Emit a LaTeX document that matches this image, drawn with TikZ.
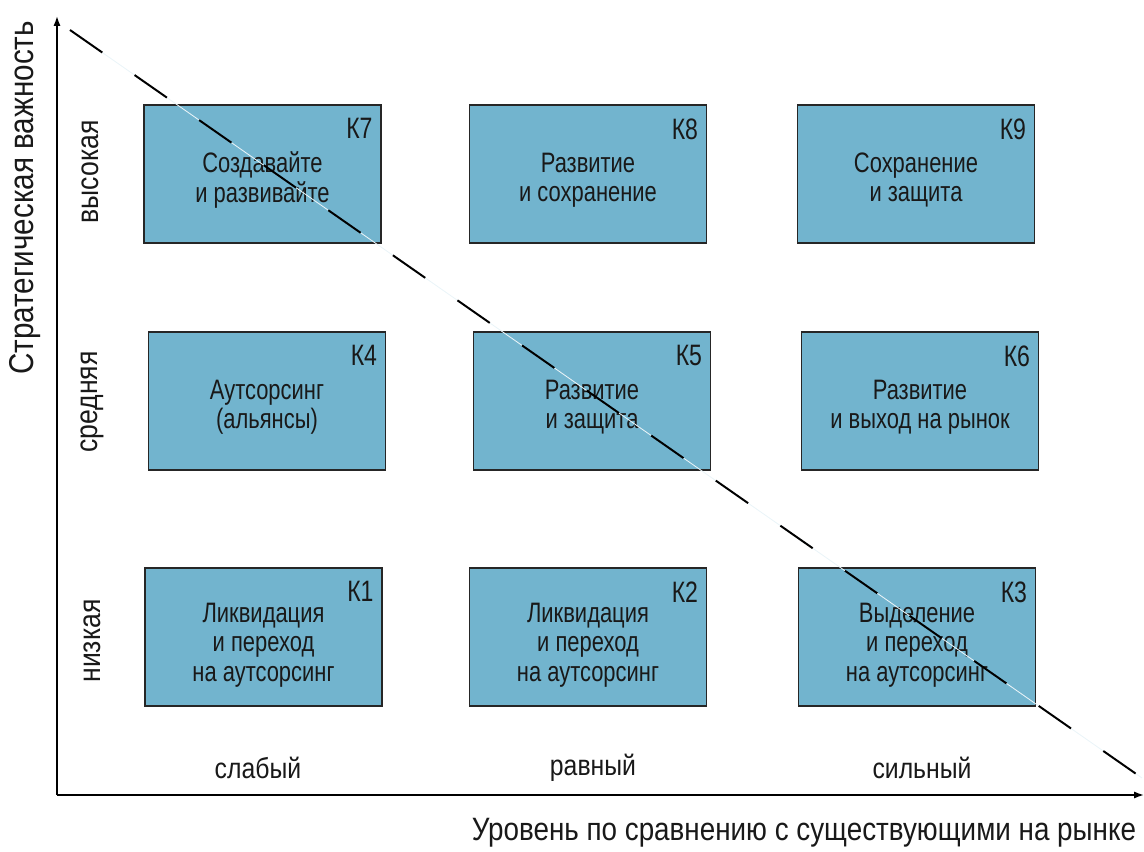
\documentclass[tikz,border=0pt]{standalone}
\usepackage{fontspec}
\setmainfont{Liberation Sans}[FakeStretch=0.86]
\newfontfamily\cellfont{Liberation Sans}[FakeStretch=0.78]
\usetikzlibrary{calc,arrows.meta}

\definecolor{cellblue}{RGB}{114,180,206}

\tikzset{
  cell/.style={draw=black!85, line width=1.1pt, fill=cellblue,
    minimum width=5.925cm, minimum height=3.45cm, inner sep=0pt},
  celltext/.style={align=center, inner sep=0pt, text=black!90,
    font=\cellfont\fontsize{20}{20.8}\selectfont},
  tag/.style={anchor=north east, inner sep=0pt, text=black!90,
    font=\cellfont\fontsize{21}{22}\selectfont},
  axis/.style={line width=1.1pt, -{Latex[length=7pt,width=5pt]}},
  diag/.style={line width=1.4pt, dash pattern=on 28pt off 28pt},
  gapline/.style={white!85!cellblue, line width=0.6pt},
  lbl/.style={text=black!90, font=\fontsize{22}{24}\selectfont},
  collbl/.style={text=black!90, font=\fontsize{20.5}{22}\selectfont},
  title/.style={text=black!90, font=\fontsize{23}{25}\selectfont},
}

\begin{document}
\begin{tikzpicture}[x=0.025cm, y=-0.025cm]
    \useasboundingbox (0,0) rectangle (1144,852);

    % axes
    \coordinate (o) at (57,795);
    \coordinate (ytop) at (57,16);
    \coordinate (xend) at (1144,795);
    \draw[axis] (o) -- (ytop);
    \draw[axis] (o) -- (xend);

    % cells
    \node[cell] (k7) at (262.5,174) {};
    \node[cell] (k8) at (588,174) {};
    \node[cell] (k9) at (916,174) {};
    \node[cell] (k4) at (267,401) {};
    \node[cell] (k5) at (592,401) {};
    \node[cell] (k6) at (920,401) {};
    \node[cell] (k1) at (263.5,637) {};
    \node[cell] (k2) at (588,637) {};
    \node[cell] (k3) at (917,637) {};

    \node[celltext] (k7txt) at ($(k7.center)+(0,6)$) {Создавайте\\и развивайте};
    \node[celltext] (k8txt) at ($(k8.center)+(0,6)$) {Развитие\\и сохранение};
    \node[celltext] (k9txt) at ($(k9.center)+(0,6)$) {Сохранение\\и защита};
    \node[celltext] (k4txt) at ($(k4.center)+(0,6)$) {Аутсорсинг\\(альянсы)};
    \node[celltext] (k5txt) at ($(k5.center)+(0,6)$) {Развитие\\и защита};
    \node[celltext] (k6txt) at ($(k6.center)+(0,6)$) {Развитие\\и выход на рынок};
    \node[celltext] (k1txt) at ($(k1.center)+(0,8)$) {Ликвидация\\и переход\\на аутсорсинг};
    \node[celltext] (k2txt) at ($(k2.center)+(0,8)$) {Ликвидация\\и переход\\на аутсорсинг};
    \node[celltext] (k3txt) at ($(k3.center)+(0,8)$) {Выделение\\и переход\\на аутсорсинг};

    \node[tag] (t7) at ($(k7.north east)+(-9,14)$) {К7};
    \node[tag] (t8) at ($(k8.north east)+(-9,14)$) {К8};
    \node[tag] (t9) at ($(k9.north east)+(-9,14)$) {К9};
    \node[tag] (t4) at ($(k4.north east)+(-9,14)$) {К4};
    \node[tag] (t5) at ($(k5.north east)+(-9,14)$) {К5};
    \node[tag] (t6) at ($(k6.north east)+(-9,14)$) {К6};
    \node[tag] (t1) at ($(k1.north east)+(-9,14)$) {К1};
    \node[tag] (t2) at ($(k2.north east)+(-9,14)$) {К2};
    \node[tag] (t3) at ($(k3.north east)+(-9,14)$) {К3};

    % diagonal
    \coordinate (d0) at (70,30);
    \coordinate (d1) at (1142,778);
    \draw[gapline] (d0) -- (d1);
    \draw[diag] (d0) -- (d1);

    % labels
    \node[title, rotate=90, font=\fontsize{24.5}{26}\selectfont] (ytitle) at (25,198) {Стратегическая важность};
    \node[lbl, rotate=90] (hi) at (90,172) {высокая};
    \node[lbl, rotate=90] (mid) at (92,402) {средняя};
    \node[lbl, rotate=90] (lo) at (92,641) {низкая};
    \node[collbl] (weak) at (258,768) {слабый};
    \node[collbl] (equal) at (593,768) {равный};
    \node[collbl] (strong) at (922,768) {сильный};
    \node[title, anchor=east] (xtitle) at (1141,833) {Уровень по сравнению с существующими на рынке};
\end{tikzpicture}
\end{document}
